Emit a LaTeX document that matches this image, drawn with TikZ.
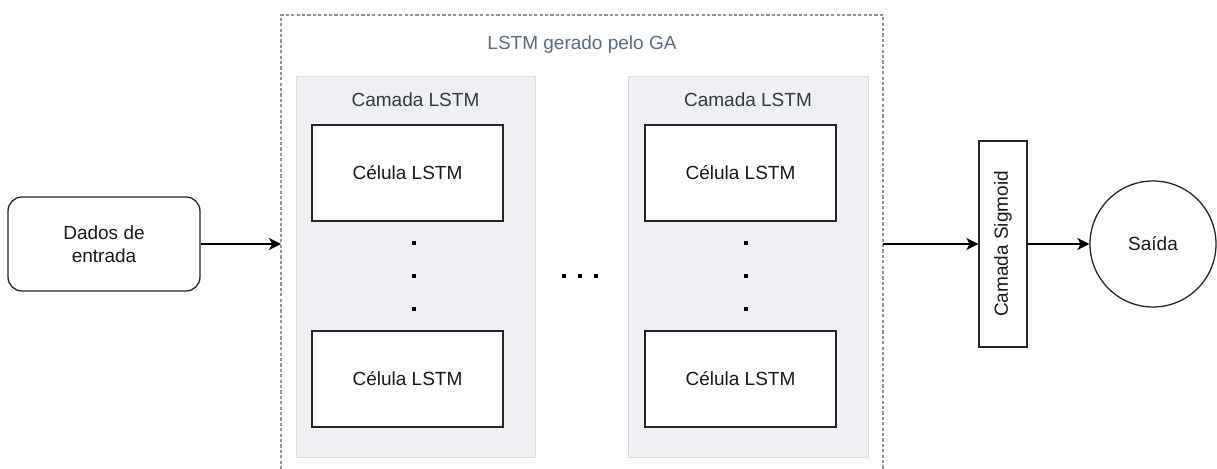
\documentclass[tikz,border=0pt]{standalone}
\usepackage{fontspec}
\setmainfont{Liberation Sans}
\usetikzlibrary{arrows.meta}
\definecolor{dashgray}{HTML}{8A94A3}
\definecolor{titleblue}{HTML}{5A6B82}
\definecolor{layerfill}{HTML}{EEF0F4}
\definecolor{layerline}{HTML}{DADDE2}
\definecolor{labelgray}{HTML}{333A44}
\tikzset{
  base/.style={font=\fontsize{9.5}{11.5}\selectfont, text=black!90, align=center, inner sep=0pt},
  layerbox/.style={fill=layerfill, draw=layerline, line width=0.5pt, minimum width=119.5pt, minimum height=190.5pt, inner sep=0pt},
  cellbox/.style={base, draw=black!85, fill=white, line width=0.65pt, minimum width=95.5pt, minimum height=48pt},
  flowarrow/.style={draw=black, line width=0.65pt, -{Stealth[length=6pt,width=6pt,inset=1.6pt]}},
  dotsq/.style={fill=black, draw=none, minimum size=2.2pt, inner sep=0pt},
}
\begin{document}
\begin{tikzpicture}[x=0.5pt, y=-0.5pt]
\useasboundingbox (0,0) rectangle (1217,469);
% outer dashed container (open at bottom edge)
\draw[dashgray, line width=0.6pt, dash pattern=on 1.6pt off 1.1pt] (281,480) -- (281,15) -- (883,15) -- (883,480);
\node[base, text=titleblue] (title) at (582,45) {LSTM gerado pelo GA};
\coordinate (ctrIn) at (281,244);
\coordinate (ctrOut) at (883,244);
% layers
\node[layerbox] (camL) at (415.5,267.5) {};
\node[layerbox, minimum width=120pt] (camR) at (748,267.5) {};
\node[base, text=labelgray] (camLlab) at (415.5,100) {Camada LSTM};
\node[base, text=labelgray] (camRlab) at (748,100) {Camada LSTM};
% cells
\node[cellbox] (cL1) at (407.5,173) {Célula LSTM};
\node[cellbox] (cL2) at (407.5,379) {Célula LSTM};
\node[cellbox] (cR1) at (740.5,173) {Célula LSTM};
\node[cellbox] (cR2) at (740.5,379) {Célula LSTM};
% vertical dots
\foreach \yy [count=\i] in {243,276,309}{
  \node[dotsq] (dL\i) at (414,\yy) {};
  \node[dotsq] (dR\i) at (746,\yy) {};
}
% horizontal dots between layers
\foreach \xx [count=\i] in {564,580,596}{
  \node[dotsq] (dH\i) at (\xx,276) {};
}
% input
\node[base, draw=black!85, line width=0.65pt, rounded corners=7pt, minimum width=96pt, minimum height=47pt] (dados) at (104,244) {Dados de\\entrada};
% sigmoid
\node[base, draw=black!85, fill=white, line width=0.65pt, minimum width=103pt, minimum height=24pt, rotate=90] (sig) at (1003,244) {Camada Sigmoid};
% output
\node[base, draw=black!85, line width=0.65pt, circle, minimum size=63pt] (saida) at (1153,244) {Saída};
% arrows
\draw[flowarrow] (dados.east) -- (ctrIn);
\draw[flowarrow] (ctrOut) -- (sig.north);
\draw[flowarrow] (sig.south) -- (saida.west);
\end{tikzpicture}
\end{document}
